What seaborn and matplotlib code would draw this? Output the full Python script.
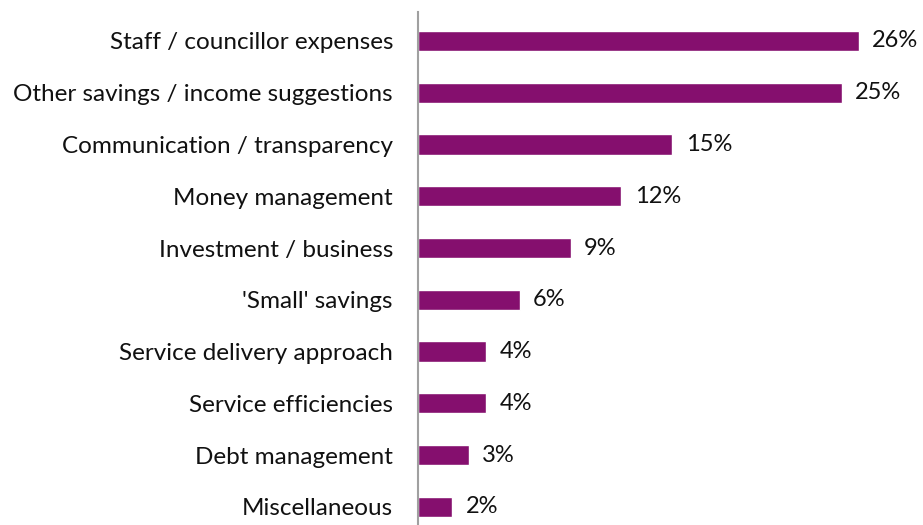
import matplotlib
matplotlib.use("Agg")
import matplotlib.pyplot as plt
import seaborn as sns
import pandas as pd

categories = [
    "Staff / councillor expenses",
    "Other savings / income suggestions",
    "Communication / transparency",
    "Money management",
    "Investment / business",
    "'Small' savings",
    "Service delivery approach",
    "Service efficiencies",
    "Debt management",
    "Miscellaneous",
]
values = [26, 25, 15, 12, 9, 6, 4, 4, 3, 2]

df = pd.DataFrame({"category": categories, "value": values})

sns.set_theme(style="white")
plt.rcParams["font.family"] = ["Lato", "DejaVu Sans"]

fig = plt.figure(figsize=(9.23, 5.25), dpi=100)
ax = fig.add_axes([418 / 923, 0.0, 1 - 418 / 923, 1 - 12 / 525])

sns.barplot(data=df, x="value", y="category", color="#850F6E",
            saturation=1, width=0.39, ax=ax, orient="h")

ax.set_xlim(0, 29.8)
ax.set_ylim(9.35, -0.56)
ax.set_xlabel("")
ax.set_ylabel("")
ax.set_xticks([])
for side in ["top", "right", "bottom"]:
    ax.spines[side].set_visible(False)
ax.spines["left"].set_color("#A0A0A0")
ax.spines["left"].set_linewidth(1.5)
ax.tick_params(axis="y", length=0, pad=18, labelsize=17.5, labelcolor="#111111")

for i, v in enumerate(values):
    ax.text(v + 0.8, i, f"{v}%", va="center", ha="left", fontsize=17, color="#111111")

fig.savefig("out.png", dpi=100)
